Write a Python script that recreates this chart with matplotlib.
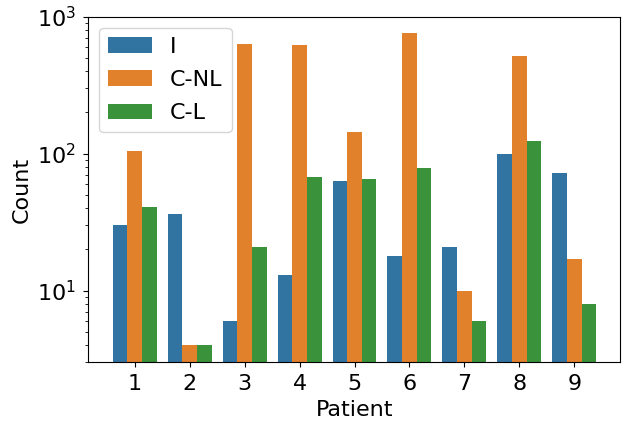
import numpy as np
import pandas as pd
import matplotlib
matplotlib.use('Agg')
import matplotlib.pyplot as plt
import seaborn as sns

# counts per patient and type
patients = [1, 2, 3, 4, 5, 6, 7, 8, 9]
count_i = [30, 36, 6, 13, 63, 18, 21, 100, 72]
count_cnl = [104, 4, 630, 620, 143, 765, 10, 520, 17]
count_cl = [41, 4, 21, 68, 65, 78, 6, 123, 8]
types = ['I', 'C-NL', 'C-L']

df = pd.DataFrame({
    'Patient': patients * 3,
    'Count': count_i + count_cnl + count_cl,
    'Type': [t for t in types for _ in patients],
})

plt.rcParams['font.size'] = 16
fig = plt.figure(figsize=(6.22, 4.22), dpi=100)
ax = fig.add_axes([0.1415, 0.1415, 0.856, 0.819])
sns.barplot(data=df, x='Patient', y='Count', hue='Type', ax=ax)
ax.set_yscale('log')
ax.set_ylim(3, 1000)
ax.set_xlim(-0.85, 8.84)
ax.tick_params(axis='both', which='major', pad=5)
ax.legend(loc='upper left', labelspacing=0.6)
fig.savefig('out.png', dpi=100)
